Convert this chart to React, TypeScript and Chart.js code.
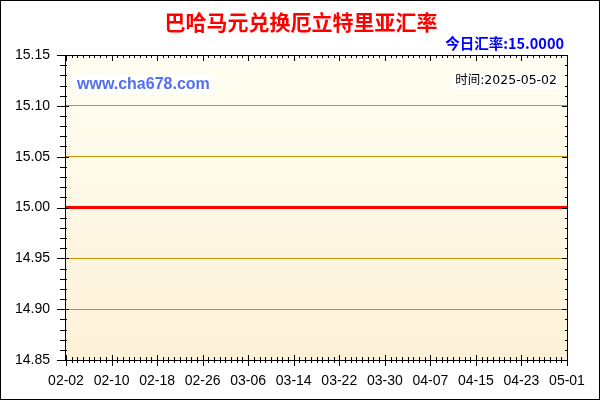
import React, { useEffect, useRef } from "react";
import { Chart, registerables } from "chart.js";

Chart.register(...registerables);

const TITLE = "巴哈马元兑换厄立特里亚汇率";
const RATE_LABEL = "今日汇率:15.0000";
const SITE_LABEL = "www.cha678.com";
const TIME_LABEL = "时间:2025-05-02";

const DATES = [
  "02-02", "02-03", "02-04", "02-05", "02-06", "02-07", "02-08", "02-09", "02-10", "02-11",
  "02-12", "02-13", "02-14", "02-15", "02-16", "02-17", "02-18", "02-19", "02-20", "02-21",
  "02-22", "02-23", "02-24", "02-25", "02-26", "02-27", "02-28",
  "03-01", "03-02", "03-03", "03-04", "03-05", "03-06", "03-07", "03-08", "03-09", "03-10",
  "03-11", "03-12", "03-13", "03-14", "03-15", "03-16", "03-17", "03-18", "03-19", "03-20",
  "03-21", "03-22", "03-23", "03-24", "03-25", "03-26", "03-27", "03-28", "03-29", "03-30",
  "03-31",
  "04-01", "04-02", "04-03", "04-04", "04-05", "04-06", "04-07", "04-08", "04-09", "04-10",
  "04-11", "04-12", "04-13", "04-14", "04-15", "04-16", "04-17", "04-18", "04-19", "04-20",
  "04-21", "04-22", "04-23", "04-24", "04-25", "04-26", "04-27", "04-28", "04-29", "04-30",
  "05-01",
];

const RATES = [
  15.0, 15.0, 15.0, 15.0, 15.0, 15.0, 15.0, 15.0, 15.0, 15.0,
  15.0, 15.0, 15.0, 15.0, 15.0, 15.0, 15.0, 15.0, 15.0, 15.0,
  15.0, 15.0, 15.0, 15.0, 15.0, 15.0, 15.0,
  15.0, 15.0, 15.0, 15.0, 15.0, 15.0, 15.0, 15.0, 15.0, 15.0,
  15.0, 15.0, 15.0, 15.0, 15.0, 15.0, 15.0, 15.0, 15.0, 15.0,
  15.0, 15.0, 15.0, 15.0, 15.0, 15.0, 15.0, 15.0, 15.0, 15.0,
  15.0,
  15.0, 15.0, 15.0, 15.0, 15.0, 15.0, 15.0, 15.0, 15.0, 15.0,
  15.0, 15.0, 15.0, 15.0, 15.0, 15.0, 15.0, 15.0, 15.0, 15.0,
  15.0, 15.0, 15.0, 15.0, 15.0, 15.0, 15.0, 15.0, 15.0, 15.0,
  15.0,
];

const Y_MIN = 14.85;
const Y_MAX = 15.15;
const Y_STEP = 0.05;
const Y_MINOR_STEP = 0.01;
const LABEL_EVERY = 8;

const framePlugin = {
  id: "frame",
  beforeDraw(chart: any) {
    const { ctx, chartArea: a, width, height } = chart;
    ctx.save();
    ctx.fillStyle = "#ffffff";
    ctx.fillRect(0, 0, width, height);
    const g = ctx.createLinearGradient(0, a.top, 0, a.bottom);
    g.addColorStop(0, "#fffef2");
    g.addColorStop(1, "#fdf1d8");
    ctx.fillStyle = g;
    ctx.fillRect(a.left, a.top, a.right - a.left, a.bottom - a.top);
    ctx.restore();
  },
  afterDraw(chart: any) {
    const { ctx, chartArea: a, width, height } = chart;
    const xs = chart.scales.x;
    const ys = chart.scales.y;
    ctx.save();
    ctx.strokeStyle = "#000000";
    ctx.lineWidth = 1;
    // plot frame
    ctx.strokeRect(a.left - 0.5, a.top + 0.5, a.right - a.left + 1, a.bottom - a.top);
    // tick marks
    ctx.beginPath();
    const n = DATES.length;
    for (let i = 0; i < n; i++) {
      const x = Math.round(xs.getPixelForValue(i)) + 0.5;
      const major = i % LABEL_EVERY === 0;
      // bottom
      ctx.moveTo(x, a.bottom - (major ? 5 : 3));
      ctx.lineTo(x, a.bottom + (major ? 6 : 3));
      // top
      ctx.moveTo(x, a.top);
      ctx.lineTo(x, a.top + (major ? 6 : 3));
    }
    const steps = Math.round((Y_MAX - Y_MIN) / Y_MINOR_STEP);
    const per = Math.round(Y_STEP / Y_MINOR_STEP);
    for (let k = 0; k <= steps; k++) {
      const v = Y_MIN + k * Y_MINOR_STEP;
      const y = Math.round(ys.getPixelForValue(v)) + 0.5;
      const major = k % per === 0;
      // left
      ctx.moveTo(a.left - (major ? 9 : 6), y);
      ctx.lineTo(a.left + (major ? 3 : 1), y);
      // right
      ctx.moveTo(a.right + 1, y);
      ctx.lineTo(a.right + 1 - (major ? 6 : 3), y);
    }
    ctx.stroke();

    // title
    ctx.textBaseline = "middle";
    ctx.textAlign = "center";
    ctx.fillStyle = "#ff0000";
    ctx.font = "bold 21px 'Noto Sans CJK SC', sans-serif";
    ctx.fillText(TITLE, 301, 22);

    // rate label
    ctx.textAlign = "right";
    ctx.fillStyle = "#0000ff";
    ctx.font = "bold 14.5px 'Noto Sans CJK SC', sans-serif";
    ctx.fillText(RATE_LABEL, 564, 43);

    // site label
    ctx.font = "bold 16px 'Liberation Sans', Arial, sans-serif";
    const sw = ctx.measureText(SITE_LABEL).width;
    ctx.fillStyle = "#ffffff";
    ctx.fillRect(74, 75, sw + 6, 19);
    ctx.textAlign = "left";
    ctx.fillStyle = "#5070ee";
    ctx.fillText(SITE_LABEL, 77, 85);

    // time label
    ctx.font = "12.5px 'DejaVu Sans', 'Noto Sans CJK SC', sans-serif";
    const tw = ctx.measureText(TIME_LABEL).width;
    ctx.fillStyle = "#ffffff";
    ctx.fillRect(557 - tw - 2, 73, tw + 4, 16);
    ctx.textAlign = "right";
    ctx.fillStyle = "#000000";
    ctx.fillText(TIME_LABEL, 557, 81);

    // outer border
    ctx.strokeStyle = "#000000";
    ctx.strokeRect(0.5, 0.5, width - 1, height - 1);
    ctx.restore();
  },
};

export default function App() {
  const ref = useRef<HTMLCanvasElement | null>(null);

  useEffect(() => {
    document.body.style.margin = "0";
    const canvas = ref.current;
    if (!canvas) return;
    const chart = new Chart(canvas, {
      type: "line",
      data: {
        labels: DATES,
        datasets: [
          {
            data: RATES,
            borderColor: "#ff0000",
            borderWidth: 3,
            pointRadius: 0,
            fill: false,
            tension: 0,
          },
        ],
      },
      options: {
        responsive: false,
        animation: false,
        devicePixelRatio: 1,
        layout: { padding: { top: 55, right: 33, left: 0, bottom: 0 } },
        plugins: {
          legend: { display: false },
          title: { display: false },
          tooltip: { enabled: false },
        },
        scales: {
          x: {
            type: "category",
            offset: false,
            grid: { display: false, drawTicks: false },
            border: { display: false },
            afterFit(scale: any) {
              scale.height = 40;
            },
            ticks: {
              autoSkip: false,
              maxRotation: 0,
              minRotation: 0,
              padding: 13,
              color: "#000000",
              font: { family: "'Liberation Sans', Arial, sans-serif", size: 14 },
              callback(_v: any, i: number) {
                return i % LABEL_EVERY === 0 ? DATES[i] : "";
              },
            },
          },
          y: {
            min: Y_MIN,
            max: Y_MAX,
            grid: {
              drawTicks: false,
              lineWidth: 1,
              color(c: any) {
                const v = c.tick ? c.tick.value : 0;
                if (Math.abs(v - Y_MIN) < 1e-6 || Math.abs(v - Y_MAX) < 1e-6) return "rgba(0,0,0,0)";
                return "#c89600";
              },
            },
            border: { display: false },
            afterFit(scale: any) {
              scale.width = 66;
            },
            ticks: {
              stepSize: Y_STEP,
              padding: 16,
              color: "#000000",
              font: { family: "'Liberation Sans', Arial, sans-serif", size: 14 },
              callback(v: any) {
                return Number(v).toFixed(2);
              },
            },
          },
        },
      },
      plugins: [framePlugin],
    });
    return () => chart.destroy();
  }, []);

  return <canvas ref={ref} width={600} height={400} style={{ display: "block" }} />;
}
